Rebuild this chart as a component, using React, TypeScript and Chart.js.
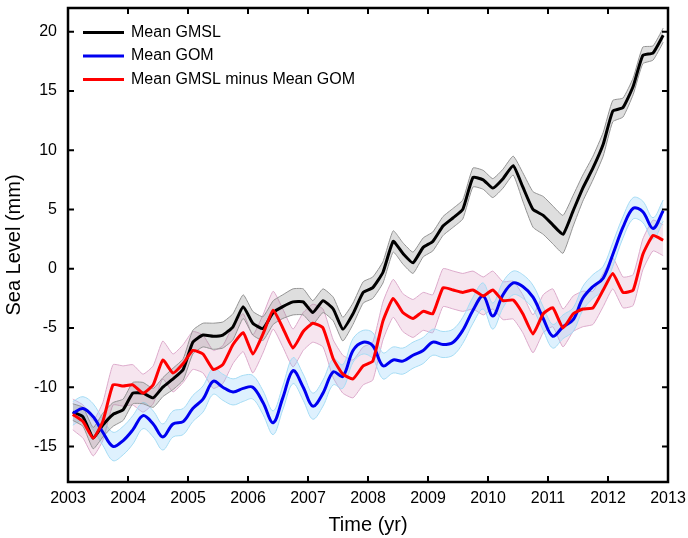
import React, { useEffect, useRef } from "react";
import { Chart, registerables } from "chart.js";

Chart.register(...registerables);

// ---- Data ----
const times = [
  2003.08, 2003.25, 2003.42, 2003.58, 2003.75, 2003.92,
  2004.08, 2004.25, 2004.42, 2004.58, 2004.75, 2004.92,
  2005.08, 2005.25, 2005.42, 2005.58, 2005.75, 2005.92,
  2006.08, 2006.25, 2006.42, 2006.58, 2006.75, 2006.92,
  2007.08, 2007.25, 2007.42, 2007.58, 2007.75, 2007.92,
  2008.08, 2008.25, 2008.42, 2008.58, 2008.75, 2008.92,
  2009.08, 2009.25, 2009.42, 2009.58, 2009.75, 2009.92,
  2010.08, 2010.25, 2010.42, 2010.58, 2010.75, 2010.92,
  2011.08, 2011.25, 2011.42, 2011.58, 2011.75, 2011.92,
  2012.08, 2012.25, 2012.42, 2012.58, 2012.75, 2012.92,
];

const gmsl = [
  -12.1, -12.5, -14.3, -13.2, -12.3, -11.9,
  -10.5, -10.5, -10.9, -10.0, -9.3, -8.5,
  -6.2, -5.6, -5.7, -5.6, -4.9, -3.2,
  -4.6, -5.05, -3.7, -3.2, -2.8, -2.8,
  -3.7, -2.7, -3.4, -5.1, -3.8, -2.0,
  -1.6, -0.3, 2.3, 1.3, 0.5, 1.8,
  2.3, 3.6, 4.3, 5.0, 7.7, 7.5,
  6.8, 7.6, 8.7, 6.9, 5.0, 4.5,
  3.7, 2.9, 4.9, 6.8, 8.5, 10.5,
  13.3, 13.6, 15.4, 18.0, 18.2, 19.7,
];
const gmslErr = [
  0.7, 0.8, 0.9, 1.0, 1.0, 0.9,
  0.9, 0.9, 0.8, 0.8, 0.9, 0.9,
  1.0, 1.0, 1.1, 1.1, 1.1, 1.0,
  1.0, 1.0, 1.0, 1.0, 1.1, 1.1,
  1.0, 1.0, 1.0, 1.0, 0.9, 0.9,
  0.9, 0.9, 0.9, 0.9, 0.9, 0.8,
  0.8, 0.8, 0.8, 0.8, 0.8, 0.8,
  0.8, 0.8, 0.8, 1.2, 1.5, 1.6,
  1.6, 1.6, 1.3, 1.1, 1.0, 1.0,
  0.9, 0.8, 0.7, 0.7, 0.6, 0.6,
];

const gom = [
  -12.2, -11.8, -12.5, -13.8, -15.0, -14.5,
  -13.6, -12.4, -13.1, -14.2, -13.1, -12.9,
  -11.8, -11.0, -9.5, -10.0, -10.4, -10.1,
  -10.0, -11.3, -13.0, -10.9, -8.6, -10.0,
  -11.6, -10.5, -8.7, -9.1, -6.9, -6.2,
  -6.5, -8.2, -7.7, -7.8, -7.3, -6.9,
  -6.2, -6.4, -6.2, -5.2, -3.5, -2.3,
  -4.0, -2.2, -1.2, -1.5, -2.4, -4.2,
  -5.7, -4.9, -4.3, -2.5, -1.5, -0.8,
  1.2, 3.5, 5.1, 4.8, 3.4, 4.9,
];
const gomErr = [
  1.0, 1.0, 1.1, 1.1, 1.2, 1.2,
  1.2, 1.1, 1.1, 1.1, 1.1, 1.1,
  1.1, 1.1, 1.1, 1.1, 1.1, 1.1,
  1.0, 1.0, 1.0, 1.0, 1.1, 1.1,
  1.1, 1.1, 1.1, 1.0, 1.0, 1.0,
  1.1, 1.1, 1.1, 1.1, 1.1, 1.1,
  1.1, 1.1, 1.1, 1.1, 1.1, 1.1,
  1.1, 1.1, 1.0, 1.0, 1.0, 1.0,
  1.0, 1.0, 1.0, 1.0, 1.0, 1.0,
  1.0, 0.9, 0.9, 0.9, 0.9, 0.9,
];

const diff = [
  -12.3, -12.9, -14.3, -12.9, -9.8, -9.9,
  -9.8, -10.5, -9.8, -7.7, -8.8, -8.0,
  -6.9, -7.2, -8.5, -8.1, -6.4, -5.4,
  -7.2, -5.5, -3.5, -5.0, -6.7, -5.3,
  -4.6, -5.0, -7.6, -8.9, -9.3, -8.2,
  -7.8, -4.4, -2.5, -3.7, -4.2, -3.6,
  -3.8, -1.6, -1.8, -2.0, -1.8, -2.3,
  -1.8, -2.7, -2.65, -3.8, -5.5, -3.8,
  -3.3, -5.0, -3.8, -3.4, -3.3, -1.8,
  -0.4, -2.0, -1.8, 1.2, 2.8, 2.4,
];
const diffErr = [
  1.3, 1.4, 1.5, 1.6, 1.7, 1.7,
  1.7, 1.6, 1.6, 1.6, 1.6, 1.6,
  1.6, 1.6, 1.6, 1.6, 1.6, 1.6,
  1.6, 1.6, 1.6, 1.6, 1.6, 1.6,
  1.6, 1.6, 1.6, 1.6, 1.6, 1.6,
  1.6, 1.6, 1.6, 1.6, 1.6, 1.6,
  1.6, 1.6, 1.6, 1.6, 1.6, 1.6,
  1.6, 1.6, 1.6, 1.6, 1.6, 1.6,
  1.6, 1.6, 1.5, 1.5, 1.4, 1.4,
  1.3, 1.3, 1.3, 1.3, 1.3, 1.3,
];

const seriesLabels = ["Mean GMSL", "Mean GOM", "Mean GMSL minus Mean GOM"];
const xTicks = [2003, 2004, 2005, 2006, 2007, 2008, 2009, 2010, 2011, 2012, 2013];
const yTicks = [-15, -10, -5, 0, 5, 10, 15, 20];

const FONT = '"Liberation Sans", Arial, Helvetica, sans-serif';

const lineColors = ["#000000", "#0000f0", "#ff0000"];
const lineTension = [0.15, 0.35, 0.15];
const bandFills = ["rgba(128,128,128,0.26)", "rgba(135,206,250,0.28)", "rgba(200,100,160,0.17)"];
const bandEdges = ["#939393", "#a6dcf4", "#dcaacb"];

function pts(vals: number[], err?: number[], sign = 0) {
  return times.map((t, i) => ({ x: t, y: vals[i] + (err ? sign * err[i] : 0) }));
}

const frameAndLegend = {
  id: "frameAndLegend",
  afterDatasetsDraw(chart: any) {
    const { ctx, chartArea, scales } = chart;
    const { left, right, top, bottom } = chartArea;
    ctx.save();
    // inward ticks
    ctx.strokeStyle = "#000";
    ctx.lineWidth = 2;
    const tl = 6;
    ctx.beginPath();
    xTicks.forEach((v) => {
      const px = scales.x.getPixelForValue(v);
      ctx.moveTo(px, bottom);
      ctx.lineTo(px, bottom - tl);
      ctx.moveTo(px, top);
      ctx.lineTo(px, top + tl);
    });
    yTicks.forEach((v) => {
      const py = scales.y.getPixelForValue(v);
      ctx.moveTo(left, py);
      ctx.lineTo(left + tl, py);
      ctx.moveTo(right, py);
      ctx.lineTo(right - tl, py);
    });
    ctx.stroke();
    // frame
    ctx.lineWidth = 2.5;
    ctx.strokeRect(left, top, right - left, bottom - top);
    // legend
    ctx.font = "16px " + FONT;
    ctx.textBaseline = "middle";
    ctx.textAlign = "left";
    seriesLabels.forEach((label, i) => {
      const y = top + 24.5 + i * 23.5;
      ctx.strokeStyle = lineColors[i];
      ctx.lineWidth = 3;
      ctx.beginPath();
      ctx.moveTo(left + 15, y);
      ctx.lineTo(left + 56, y);
      ctx.stroke();
      ctx.fillStyle = "#000";
      ctx.fillText(label, left + 63, y);
    });
    ctx.restore();
  },
};

export default function App() {
  const canvasRef = useRef<HTMLCanvasElement | null>(null);

  useEffect(() => {
    if (!canvasRef.current) return;
    const series = [
      { vals: gmsl, err: gmslErr },
      { vals: gom, err: gomErr },
      { vals: diff, err: diffErr },
    ];
    const datasets: any[] = [];
    series.forEach((s, i) => {
      datasets.push({
        label: seriesLabels[i] + " lower",
        data: pts(s.vals, s.err, -1),
        borderColor: bandEdges[i],
        borderWidth: 1,
        pointRadius: 0,
        tension: lineTension[i],
        fill: false,
        order: 10 + i,
      });
      datasets.push({
        label: seriesLabels[i] + " upper",
        data: pts(s.vals, s.err, 1),
        borderColor: bandEdges[i],
        backgroundColor: bandFills[i],
        borderWidth: 1,
        pointRadius: 0,
        tension: lineTension[i],
        fill: "-1",
        order: 10 + i,
      });
    });
    series.forEach((s, i) => {
      datasets.push({
        label: seriesLabels[i],
        data: pts(s.vals),
        borderColor: lineColors[i],
        borderWidth: 3,
        pointRadius: 0,
        tension: lineTension[i],
        fill: false,
        order: 3 - i,
      });
    });

    const chart = new Chart(canvasRef.current, {
      type: "line",
      data: { datasets },
      options: {
        animation: false,
        responsive: false,
        events: [],
        layout: { padding: { left: 0, top: 8, right: 20, bottom: 0 } },
        plugins: { legend: { display: false }, tooltip: { enabled: false } },
        scales: {
          x: {
            type: "linear",
            min: 2003,
            max: 2013,
            afterBuildTicks: (s: any) => {
              s.ticks = xTicks.map((v) => ({ value: v }));
            },
            afterFit: (s: any) => {
              s.height = 56;
              s.paddingLeft = 0;
              s.paddingRight = 0;
            },
            grid: { display: false, drawTicks: false },
            border: { display: false },
            ticks: {
              color: "#000",
              padding: 7,
              maxRotation: 0,
              autoSkip: false,
              font: { family: FONT, size: 16 },
              callback: (v: any) => String(v),
            },
            title: {
              display: true,
              text: "Time (yr)",
              color: "#000",
              font: { family: FONT, size: 20 },
              padding: { top: 0, bottom: 1 },
            },
          },
          y: {
            type: "linear",
            min: -18,
            max: 22,
            afterBuildTicks: (s: any) => {
              s.ticks = yTicks.map((v) => ({ value: v }));
            },
            afterFit: (s: any) => {
              s.width = 68;
              s.paddingTop = 0;
              s.paddingBottom = 0;
            },
            grid: { display: false, drawTicks: false },
            border: { display: false },
            ticks: {
              color: "#000",
              padding: 11,
              autoSkip: false,
              font: { family: FONT, size: 16 },
              callback: (v: any) => String(v),
            },
            title: {
              display: true,
              text: "Sea Level (mm)",
              color: "#000",
              font: { family: FONT, size: 20 },
              padding: { top: 2.5, bottom: 0 },
            },
          },
        },
      },
      plugins: [frameAndLegend],
    });
    return () => chart.destroy();
  }, []);

  return (
    <div style={{ position: "fixed", left: 0, top: 0, width: 688, height: 538, background: "#fff" }}>
      <canvas ref={canvasRef} width={688} height={538} />
    </div>
  );
}
